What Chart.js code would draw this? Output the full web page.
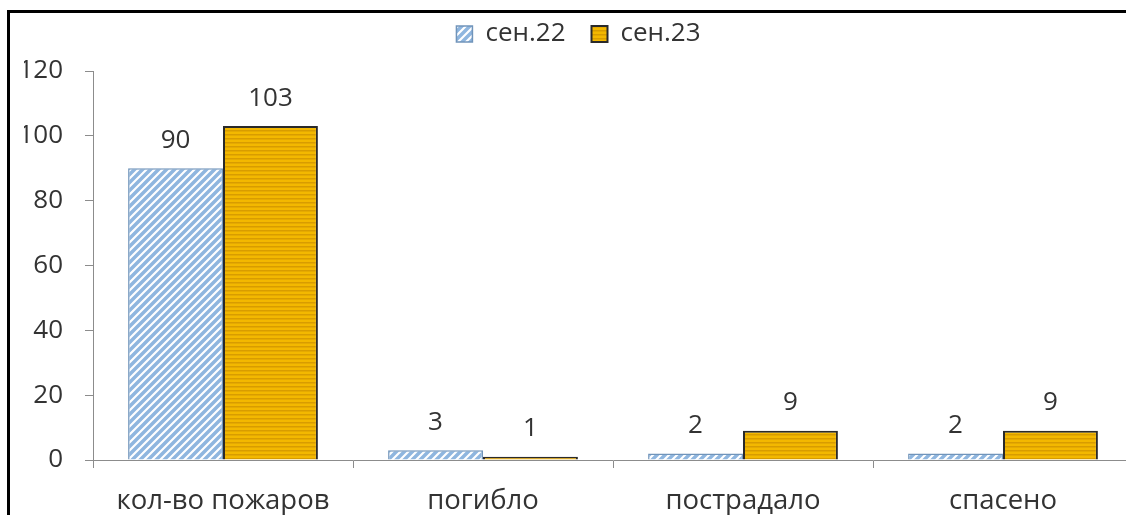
<!DOCTYPE html>
<html>
<head>
<meta charset="utf-8">
<script src="https://cdn.jsdelivr.net/npm/chart.js@4/dist/chart.umd.min.js"></script>
<style>
  html, body { margin: 0; padding: 0; background: #fff; overflow: hidden; }
  #frame { position: absolute; left: 7px; top: 10px; width: 1200px; height: 600px;
           border-left: 3px solid #000; border-top: 3px solid #000; pointer-events: none; }
  #wrap { position: absolute; left: 0; top: 0; width: 1140px; height: 540px; }
</style>
</head>
<body>
<div id="wrap"><canvas id="chart"></canvas></div>
<div id="frame"></div>
<script>
// данные
const categories = ['кол-во пожаров', 'погибло', 'пострадало', 'спасено'];
const seriesNames = ['сен.22', 'сен.23'];
const sep22 = [90, 3, 2, 2];
const sep23 = [103, 1, 9, 9];
const yTicks = [0, 20, 40, 60, 80, 100, 120];

const FONT = '"Open Sans", sans-serif';
const TEXT = '#333333';
const AXIS = '#8c8c8c';

// штриховка для сен.22 (косые линии)
function diagPattern() {
    const s = 8;
    const c = document.createElement('canvas');
    c.width = s; c.height = s;
    const g = c.getContext('2d');
    g.fillStyle = '#ffffff';
    g.fillRect(0, 0, s, s);
    g.strokeStyle = '#8fb6df';
    g.lineWidth = 3.5;
    g.beginPath();
    g.moveTo(-2, s + 2); g.lineTo(s + 2, -2);
    g.moveTo(-2, 2); g.lineTo(2, -2);
    g.moveTo(s - 2, s + 2); g.lineTo(s + 2, s - 2);
    g.stroke();
    const ctx = document.createElement('canvas').getContext('2d');
    return ctx.createPattern(c, 'repeat');
}

// штриховка для сен.23 (горизонтальные линии)
function horizPattern() {
    const c = document.createElement('canvas');
    c.width = 4; c.height = 4;
    const g = c.getContext('2d');
    g.fillStyle = '#f3b800';
    g.fillRect(0, 0, 4, 4);
    g.fillStyle = '#d89c00';
    g.fillRect(0, 2, 4, 1.5);
    const ctx = document.createElement('canvas').getContext('2d');
    return ctx.createPattern(c, 'repeat');
}

// подписи значений над столбцами
const valueLabels = {
    id: 'valueLabels',
    afterDatasetsDraw(chart) {
        const {ctx} = chart;
        ctx.save();
        ctx.font = '26px ' + FONT;
        ctx.fillStyle = TEXT;
        ctx.textAlign = 'center';
        ctx.textBaseline = 'middle';
        chart.data.datasets.forEach((ds, i) => {
            chart.getDatasetMeta(i).data.forEach((bar, j) => {
                ctx.fillText(String(ds.data[j]), bar.x, bar.y - 28);
            });
        });
        ctx.restore();
    }
};

// место под легендой и её сдвиг вверх
const legendSpace = {
    id: 'legendSpace',
    beforeLayout(chart) {
        const l = chart.legend;
        if (l && !l._patched) {
            const fit = l.fit;
            l.fit = function () { fit.call(this); this.height += 2; };
            l._patched = true;
        }
    },
    afterLayout(chart) {
        const l = chart.legend;
        if (l) { l.top -= 12; l.bottom -= 12; }
    }
};

const ctx = document.getElementById('chart').getContext('2d');
new Chart(ctx, {
    type: 'bar',
    data: {
        labels: categories,
        datasets: [{
            label: seriesNames[0],
            data: sep22,
            backgroundColor: diagPattern(),
            borderColor: '#7094ba',
            borderWidth: 1.5,
            categoryPercentage: 0.73,
            barPercentage: 1.0
        }, {
            label: seriesNames[1],
            data: sep23,
            backgroundColor: horizPattern(),
            borderColor: '#2a2a2a',
            borderWidth: 2,
            categoryPercentage: 0.73,
            barPercentage: 1.0
        }]
    },
    options: {
        responsive: true,
        maintainAspectRatio: false,
        animation: false,
        layout: { padding: { left: 24, top: 7, right: 7, bottom: 0 } },
        plugins: {
            tooltip: { enabled: false },
            legend: {
                position: 'top',
                labels: {
                    boxWidth: 16,
                    boxHeight: 16,
                    padding: 26,
                    color: TEXT,
                    font: { family: FONT, size: 26 }
                }
            }
        },
        scales: {
            x: {
                grid: { display: true, drawOnChartArea: false, offset: true, tickLength: 8, color: AXIS },
                border: { color: AXIS },
                ticks: { color: TEXT, font: { family: FONT, size: 27.5 }, padding: 17, maxRotation: 0 },
                afterFit: (s) => { s.height = 80; }
            },
            y: {
                min: 0,
                max: 120,
                afterBuildTicks: (s) => { s.ticks = yTicks.map(v => ({value: v})); },
                grid: { display: true, drawOnChartArea: false, tickLength: 8, color: AXIS },
                border: { color: AXIS },
                ticks: { color: TEXT, font: { family: FONT, size: 26 }, padding: 22 },
                afterFit: (s) => { s.width = 69; }
            }
        }
    },
    plugins: [valueLabels, legendSpace]
});
</script>
</body>
</html>
